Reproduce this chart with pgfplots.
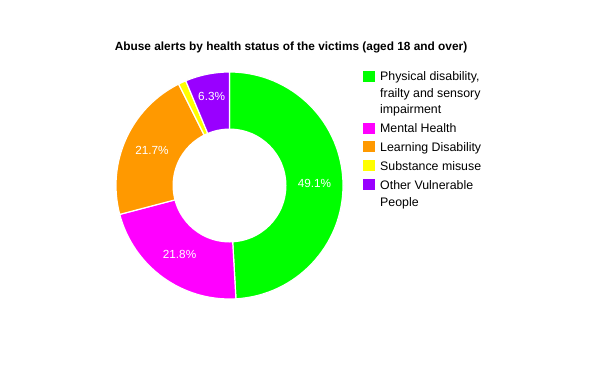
\documentclass[border=0pt]{standalone}
\usepackage{pgfplots}
\usepackage{pgfplotstable}
\usepackage{fontspec}
\setmainfont{Liberation Sans}
\pgfplotsset{compat=1.18}
\definecolor{c0}{HTML}{00FF00}
\definecolor{c1}{HTML}{FF00FF}
\definecolor{c2}{HTML}{FF9900}
\definecolor{c3}{HTML}{FFFF00}
\definecolor{c4}{HTML}{9900FF}
\pgfplotstableread{
label value
Physical 49.1
Mental 21.8
Learning 21.7
Substance 1.1
Other 6.3
}\datatable
\newcommand\lfont{\fontsize{12.4}{14}\selectfont}
\newcommand\pfont{\fontsize{11.8}{14}\selectfont}
\begin{document}
\begin{tikzpicture}
\begin{axis}[
  scale only axis, width=600bp, height=371bp,
  xmin=0, xmax=600, ymin=0, ymax=371,
  axis lines=none, clip=false,
]
\def\cum{0}
\pgfplotsforeachungrouped \i in {0,...,4} {
  \pgfplotstablegetelem{\i}{value}\of\datatable
  \let\v\pgfplotsretval
  \pgfmathsetmacro\aA{90-3.6*\cum}
  \pgfmathsetmacro\cumnew{\cum+\v}
  \pgfmathsetmacro\aB{90-3.6*\cumnew}
  \pgfmathsetmacro\aM{(\aA+\aB)/2}
  \edef\temp{\noexpand\filldraw[fill=c\i, draw=white, line width=1.2bp] (axis cs:229.5,185.5) -- ++(\aA:113.5bp) arc[start angle=\aA, end angle=\aB, radius=113.5bp] -- cycle;}
  \temp
  \ifdim\v pt>3pt
    \ifdim\v pt<10pt \def\lr{91}\else\def\lr{85}\fi
    \edef\temp{\noexpand\path (axis cs:229.5,185.5) ++(\aM:\lr bp) node[text=white, font=\noexpand\pfont] {\v\noexpand\%};}
    \temp
  \fi
  \let\cum\cumnew
}
\fill[white] (axis cs:229.5,185.5) circle[radius=57bp];
% title
\node[font=\bfseries\fontsize{11.9}{14}\selectfont, anchor=base] at (axis cs:291,320.5) {Abuse alerts by health status of the victims (aged 18 and over)};
% legend
\fill[c0] (axis cs:363,371-71) rectangle (axis cs:375,371-82);
\fill[c1] (axis cs:363,371-123) rectangle (axis cs:375,371-134);
\fill[c2] (axis cs:363,371-141) rectangle (axis cs:375,371-152);
\fill[c3] (axis cs:363,371-160) rectangle (axis cs:375,371-171);
\fill[c4] (axis cs:363,371-179) rectangle (axis cs:375,371-190);
\node[font=\lfont, anchor=base west, inner sep=0pt] at (axis cs:380,371-81) {Physical disability,};
\node[font=\lfont, anchor=base west, inner sep=0pt] at (axis cs:380,371-97.5) {frailty and sensory};
\node[font=\lfont, anchor=base west, inner sep=0pt] at (axis cs:380,371-113.5) {impairment};
\node[font=\lfont, anchor=base west, inner sep=0pt] at (axis cs:380,371-133) {Mental Health};
\node[font=\lfont, anchor=base west, inner sep=0pt] at (axis cs:380,371-151.5) {Learning Disability};
\node[font=\lfont, anchor=base west, inner sep=0pt] at (axis cs:380,371-170.5) {Substance misuse};
\node[font=\lfont, anchor=base west, inner sep=0pt] at (axis cs:380,371-189.5) {Other Vulnerable};
\node[font=\lfont, anchor=base west, inner sep=0pt] at (axis cs:380,371-206) {People};
\path (axis cs:0,0) rectangle (axis cs:600,371);
\end{axis}
\end{tikzpicture}
\end{document}
